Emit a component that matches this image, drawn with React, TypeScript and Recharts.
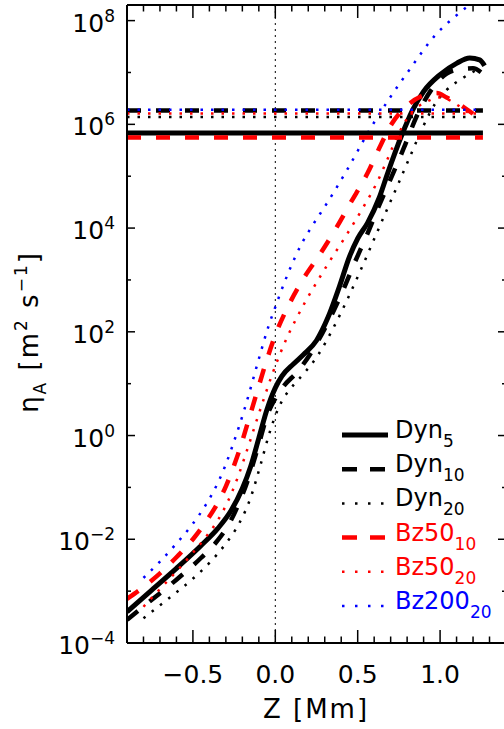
import React from 'react';
import { LineChart, Line, XAxis, YAxis, ReferenceLine, Legend } from 'recharts';

// axis ticks
const Z_TICKS = [-0.9, -0.8, -0.7, -0.6, -0.5, -0.4, -0.3, -0.2, -0.1, 0, 0.1, 0.2, 0.3, 0.4, 0.5, 0.6, 0.7, 0.8, 0.9, 1.0, 1.1, 1.2, 1.3, 1.4];
const Z_LABELS = [-0.5, 0, 0.5, 1.0];
const ETA_TICKS = [1e-4, 1e-3, 1e-2, 1e-1, 1, 1e1, 1e2, 1e3, 1e4, 1e5, 1e6, 1e7, 1e8];
const ETA_LABELS = [1e-4, 1e-2, 1, 1e2, 1e4, 1e6, 1e8];

// profiles, eta_A [m^2 s^-1] vs Z [Mm]
const zDyn5 = [-0.9, -0.75, -0.6, -0.45, -0.35, -0.27, -0.2, -0.15, -0.1, -0.05, 0.0, 0.04, 0.11, 0.17, 0.25, 0.32, 0.39, 0.45, 0.5, 0.56, 0.63, 0.68, 0.77, 0.83, 0.9, 1.0, 1.1, 1.18, 1.24, 1.27];
const etaDyn5 = [4.0e-4, 1.05e-3, 2.75e-3, 7.6e-3, 1.6e-2, 3.5e-2, 9.5e-2, 0.25, 0.89, 3.2, 8.3, 14, 24, 36, 68, 190, 760, 2800, 6300, 1.26e4, 3.8e4, 1.1e5, 6.5e5, 1.8e6, 4.3e6, 9.1e6, 1.5e7, 1.9e7, 1.75e7, 1.35e7];

const zDyn10 = [-0.9, -0.75, -0.6, -0.45, -0.35, -0.28, -0.22, -0.16, -0.1, -0.05, 0.0, 0.05, 0.14, 0.24, 0.33, 0.41, 0.48, 0.56, 0.62, 0.7, 0.78, 0.86, 0.95, 1.04, 1.12, 1.2, 1.25];
const etaDyn10 = [2.8e-4, 6.8e-4, 1.66e-3, 4.4e-3, 9.5e-3, 2.0e-2, 5.0e-2, 0.16, 0.68, 2.4, 5.2, 8.9, 17.8, 52, 178, 620, 2100, 7900, 2.3e4, 8.9e4, 3.5e5, 1.48e6, 4.8e6, 9.5e6, 1.15e7, 1.2e7, 1.0e7];

const zDyn20 = [-0.8, -0.65, -0.5, -0.4, -0.3, -0.22, -0.15, -0.09, -0.04, 0.0, 0.04, 0.08, 0.12, 0.18, 0.26, 0.35, 0.44, 0.52, 0.59, 0.67, 0.75, 0.82, 0.9, 0.97, 1.04, 1.14, 1.24];
const etaDyn20 = [3.0e-4, 7.1e-4, 1.74e-3, 3.5e-3, 8.3e-3, 2.0e-2, 6.3e-2, 0.27, 1.0, 2.4, 4.6, 7.2, 10.2, 16.6, 36, 115, 440, 1600, 5200, 2.0e4, 7.6e4, 2.5e5, 9.5e5, 2.5e6, 4.6e6, 7.9e6, 1.2e7];

const zBz50a = [-0.9, -0.8, -0.7, -0.6, -0.5, -0.42, -0.35, -0.3, -0.26, -0.22, -0.16, -0.11, -0.056, 0.004, 0.08, 0.166, 0.267, 0.368, 0.455, 0.56, 0.64, 0.7, 0.8, 0.88, 0.98, 1.04, 1.12, 1.2];
const etaBz50a = [7.1e-4, 1.2e-3, 2.2e-3, 4.5e-3, 1.0e-2, 2.2e-2, 5.0e-2, 0.105, 0.22, 0.5, 2.1, 7.1, 26, 93, 320, 1000, 3000, 9800, 3.0e4, 1.15e5, 4.0e5, 9.5e5, 2.3e6, 3.4e6, 4.0e6, 3.3e6, 2.4e6, 1.6e6];

const zBz50b = [-0.8, -0.7, -0.6, -0.5, -0.42, -0.35, -0.29, -0.23, -0.17, -0.11, -0.06, -0.02, 0.02, 0.07, 0.13, 0.19, 0.26, 0.33, 0.43, 0.53, 0.62, 0.68, 0.74, 0.82, 0.92, 1.0, 1.12, 1.2];
const etaBz50b = [5.0e-4, 1.1e-3, 2.4e-3, 5.5e-3, 1.12e-2, 2.3e-2, 5.2e-2, 0.15, 0.54, 2.1, 6.3, 14.8, 32, 76, 186, 420, 1000, 2300, 7200, 2.4e4, 7.9e4, 2.1e5, 5.8e5, 1.6e6, 2.75e6, 3.3e6, 2.2e6, 1.4e6];

const zBz200 = [-0.8, -0.7, -0.6, -0.5, -0.42, -0.35, -0.3, -0.26, -0.22, -0.19, -0.16, -0.13, -0.1, -0.04, 0.0, 0.03, 0.08, 0.16, 0.22, 0.31, 0.37, 0.44, 0.57, 0.68, 0.82, 0.97, 1.08, 1.16, 1.2];
const etaBz200 = [1.8e-3, 3.7e-3, 8.3e-3, 2.0e-2, 4.7e-2, 0.12, 0.28, 0.63, 1.5, 3.0, 6.3, 13.8, 30, 132, 300, 550, 1400, 5000, 1.05e4, 2.9e4, 5.9e4, 1.4e5, 7.6e5, 2.75e6, 1.2e7, 5.2e7, 1.12e8, 1.8e8, 2.2e8];

// constant reference levels, drawn over this Z span
const LEVEL_Z = [-0.9, 1.26];
const levelDyn5 = 6.8e5;
const levelDyn10 = 1.85e6;
const levelDyn20 = 1.38e6;
const levelBz50a = 5.6e5;
const levelBz50b = 1.62e6;
const levelBz200 = 1.92e6;

const toPoints = (z: number[], eta: number[]) => z.map((v, i) => ({ z: v, eta: eta[i] }));

const SERIES = [
  { key: 'dyn5', label: 'Dyn', sub: '5', z: zDyn5, eta: etaDyn5, level: levelDyn5, color: '#000000', width: 5, dash: undefined as string | undefined, legendDash: undefined as string | undefined },
  { key: 'dyn10', label: 'Dyn', sub: '10', z: zDyn10, eta: etaDyn10, level: levelDyn10, color: '#000000', width: 4.5, dash: '14 15', legendDash: '15 13' },
  { key: 'dyn20', label: 'Dyn', sub: '20', z: zDyn20, eta: etaDyn20, level: levelDyn20, color: '#000000', width: 2.5, dash: '2.5 8', legendDash: '2.5 10.5' },
  { key: 'bz50a', label: 'Bz50', sub: '10', z: zBz50a, eta: etaBz50a, level: levelBz50a, color: '#ff0000', width: 4.5, dash: '14 15', legendDash: '15 13' },
  { key: 'bz50b', label: 'Bz50', sub: '20', z: zBz50b, eta: etaBz50b, level: levelBz50b, color: '#ff0000', width: 2.5, dash: '2.5 8', legendDash: '2.5 10.5' },
  { key: 'bz200', label: 'Bz200', sub: '20', z: zBz200, eta: etaBz200, level: levelBz200, color: '#0000ff', width: 2.5, dash: '2.5 8', legendDash: '2.5 10.5' },
];

const FONT = '"DejaVu Sans", sans-serif';
const isLabelZ = (v: number) => Z_LABELS.some((l) => Math.abs(l - v) < 1e-6);
const fmtZ = (v: number) => (Math.abs(v) < 1e-9 ? '0.0' : v.toFixed(1)).replace('-', '\u2212');
const expOf = (v: number) => Math.round(Math.log10(v));
const isLabelEta = (v: number) => ETA_LABELS.some((l) => expOf(l) === expOf(v));

const BottomTick = ({ x, y, payload }: any) => {
  const major = isLabelZ(payload.value);
  return (
    <g>
      <line x1={x} x2={x} y1={y} y2={y - (major ? 13 : 6.5)} stroke="#000" strokeWidth={1.5} />
      {major && (
        <text x={x} y={y + 40} textAnchor="middle" fontSize={25} fontFamily={FONT} fill="#000">
          {fmtZ(payload.value)}
        </text>
      )}
    </g>
  );
};

const TopTick = ({ x, y, payload }: any) => {
  const major = isLabelZ(payload.value);
  return <line x1={x} x2={x} y1={y} y2={y + (major ? 13 : 6.5)} stroke="#000" strokeWidth={1.5} />;
};

const LeftTick = ({ x, y, payload }: any) => {
  const major = isLabelEta(payload.value);
  const e = expOf(payload.value);
  return (
    <g>
      <line x1={x} x2={x + (major ? 8 : 4)} y1={y} y2={y} stroke="#000" strokeWidth={1.5} />
      {major && (
        <text x={x - 12} y={y + 11} textAnchor="end" fontSize={25} fontFamily={FONT} fill="#000">
          10<tspan dy={-10} fontSize={17}>{String(e).replace('-', '\u2212')}</tspan>
        </text>
      )}
    </g>
  );
};

const RightTick = ({ x, y, payload }: any) => {
  const major = isLabelEta(payload.value);
  return <line x1={x} x2={x - (major ? 8 : 4)} y1={y} y2={y} stroke="#000" strokeWidth={1.5} />;
};

const YTitle = () => (
  <text transform="translate(38,332) rotate(-90)" textAnchor="middle" fontSize={26} fontFamily={FONT} fill="#000" letterSpacing={2} style={{ whiteSpace: 'pre' }}>
    η<tspan dy={8} fontSize={17}>A</tspan>
    <tspan dy={-8}> [m</tspan>
    <tspan dy={-11} fontSize={17}>2</tspan>
    <tspan dy={11}> s</tspan>
    <tspan dy={-11} fontSize={17}>{'\u22121'}</tspan>
    <tspan dy={11}>]</tspan>
  </text>
);

const XTitle = () => (
  <text x={316} y={718} textAnchor="middle" fontSize={26} fontFamily={FONT} fill="#000" letterSpacing={2} style={{ whiteSpace: 'pre' }}>
    Z [Mm]
  </text>
);

const LegendBox = () => (
  <svg width={170} height={215} style={{ display: 'block', overflow: 'visible' }}>
    {SERIES.map((s, i) => {
      const base = 28 + i * 34.2;
      return (
        <g key={s.key}>
          <line x1={4} x2={50} y1={base - 3} y2={base - 3} stroke={s.color} strokeWidth={s.width} strokeDasharray={s.legendDash} />
          <text x={57} y={base} fontSize={24} fontFamily={FONT} fill={s.color}>
            {s.label}
            <tspan dy={9} fontSize={17}>{s.sub}</tspan>
          </text>
        </g>
      );
    })}
  </svg>
);

export default function App() {
  return (
    <div style={{ position: 'absolute', left: 0, top: 0, width: 504, height: 729, overflow: 'hidden', background: '#fff' }}>
      <LineChart width={512} height={729} margin={{ top: 0, right: 0, bottom: 0, left: 0 }}>
        <XAxis
          xAxisId="b"
          type="number"
          dataKey="z"
          domain={[-0.9, 1.4]}
          ticks={Z_TICKS}
          interval={0}
          allowDataOverflow
          height={86}
          tickSize={0}
          tickMargin={0}
          tickLine={false}
          tick={<BottomTick />}
          axisLine={{ stroke: '#000', strokeWidth: 2 }}
          label={<XTitle />}
        />
        <XAxis
          xAxisId="t"
          orientation="top"
          type="number"
          dataKey="z"
          domain={[-0.9, 1.4]}
          ticks={Z_TICKS}
          interval={0}
          allowDataOverflow
          height={5}
          tickSize={0}
          tickMargin={0}
          tickLine={false}
          tick={<TopTick />}
          axisLine={{ stroke: '#000', strokeWidth: 2 }}
        />
        <YAxis
          yAxisId="l"
          type="number"
          scale="log"
          domain={[1e-4, 2e8]}
          ticks={ETA_TICKS}
          interval={0}
          allowDataOverflow
          width={127}
          tickSize={0}
          tickMargin={0}
          tickLine={false}
          tick={<LeftTick />}
          axisLine={{ stroke: '#000', strokeWidth: 2 }}
          label={<YTitle />}
        />
        <YAxis
          yAxisId="r"
          orientation="right"
          type="number"
          scale="log"
          domain={[1e-4, 2e8]}
          ticks={ETA_TICKS}
          interval={0}
          allowDataOverflow
          width={6}
          tickSize={0}
          tickMargin={0}
          tickLine={false}
          tick={<RightTick />}
          axisLine={{ stroke: '#000', strokeWidth: 2 }}
        />
        <ReferenceLine xAxisId="b" yAxisId="l" x={0} stroke="#000" strokeWidth={1} strokeDasharray="2 4" />
        {SERIES.map((s) => (
          <Line
            key={s.key}
            xAxisId="b"
            yAxisId="l"
            data={toPoints(s.z, s.eta)}
            dataKey="eta"
            type="monotone"
            stroke={s.color}
            strokeWidth={s.width}
            strokeDasharray={s.dash}
            dot={false}
            activeDot={false}
            legendType="none"
            isAnimationActive={false}
          />
        ))}
        {SERIES.map((s) => (
          <Line
            key={s.key + '-level'}
            xAxisId="b"
            yAxisId="l"
            data={LEVEL_Z.map((z) => ({ z, eta: s.level }))}
            dataKey="eta"
            type="linear"
            stroke={s.color}
            strokeWidth={s.width}
            strokeDasharray={s.dash}
            dot={false}
            activeDot={false}
            legendType="none"
            isAnimationActive={false}
          />
        ))}
        <Legend
          layout="horizontal"
          align="center"
          verticalAlign="middle"
          content={<LegendBox />}
          wrapperStyle={{ position: 'absolute', left: 338, top: 410, right: 'auto', bottom: 'auto', width: 170, height: 215 }}
        />
      </LineChart>
    </div>
  );
}
